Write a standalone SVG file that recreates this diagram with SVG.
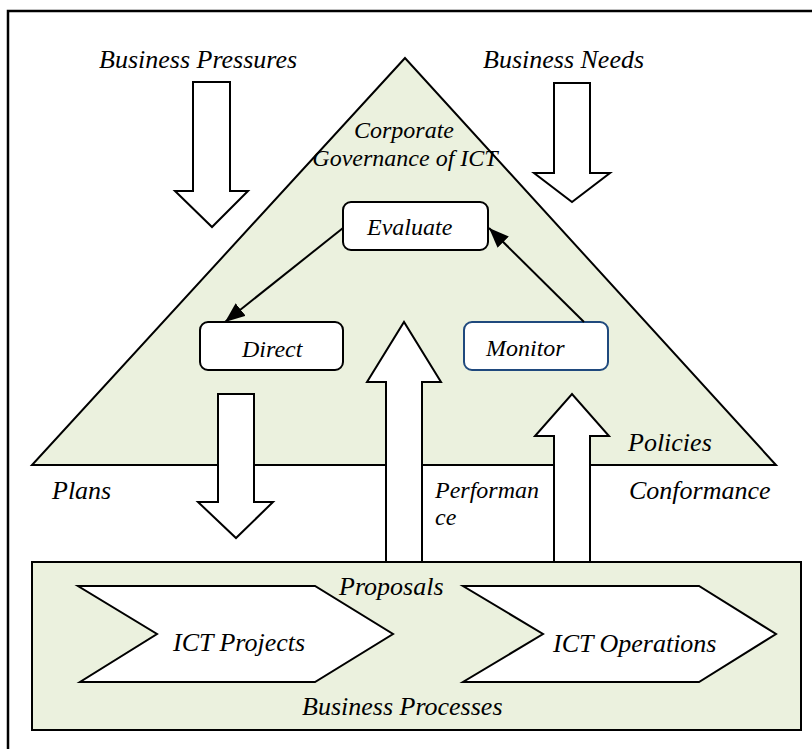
<svg xmlns="http://www.w3.org/2000/svg" width="812" height="749" viewBox="0 0 812 749">
<style>
.l{font-size:26px}
.s{font-size:24px}
.g{fill:#ebf1de;stroke:#000;stroke-width:2}
.w{fill:#fff;stroke:#000;stroke-width:2;stroke-linejoin:miter}
.c{fill:none;stroke:#000;stroke-width:2}
</style>
<defs>
<marker id="ah2" viewBox="0 0 20 16" refX="20" refY="8" markerWidth="20" markerHeight="16" markerUnits="userSpaceOnUse" orient="auto">
<path d="M0,0 L20,8 L0,16 z" fill="#000"/>
</marker>
</defs>
<g font-family="Liberation Serif, serif" font-style="italic" fill="#000">
<g id="frame">
<path d="M8,749 L8,11 L812,11" fill="none" stroke="#000" stroke-width="2.5"/>
</g>
<g id="governance">
<polygon class="g" points="405,58 32,465 776,465"/>
<text class="s" x="404" y="138" text-anchor="middle">Corporate</text>
<text class="s" x="405" y="166" text-anchor="middle">Governance of ICT</text>
</g>
<g id="evaluate">
<rect class="w" x="343" y="202" width="145" height="48" rx="8"/>
<text class="s" x="367" y="235">Evaluate</text>
</g>
<g id="direct">
<rect class="w" x="200" y="322" width="143" height="48" rx="8"/>
<text class="s" x="242" y="357">Direct</text>
</g>
<g id="monitor">
<rect x="464" y="322" width="144" height="48" rx="8" fill="#fff" stroke="#1f497d" stroke-width="2"/>
<text class="s" x="486" y="356">Monitor</text>
</g>
<g id="connectors">
<line class="c" x1="343" y1="228" x2="225" y2="322" marker-end="url(#ah2)"/>
<line class="c" x1="584" y1="322" x2="489" y2="228" marker-end="url(#ah2)"/>
</g>
<g id="business-pressures">
<polygon class="w" points="193,82 230,82 230,191 248,191 212,227 175,191 193,191"/>
<text class="l" x="99" y="68">Business Pressures</text>
</g>
<g id="business-needs">
<polygon class="w" points="554,83 590,83 590,173 610,173 572,202 534,173 554,173"/>
<text class="l" x="483" y="68">Business Needs</text>
</g>
<g id="plans">
<polygon class="w" points="218,394 254,394 254,502 273,502 236,538 198,502 218,502"/>
<text class="l" x="52" y="499">Plans</text>
</g>
<g id="performance">
<polygon class="w" points="386,565 386,382 367,382 404,322 441,382 422,382 422,565"/>
<text class="s" x="435" y="498">Performan</text>
<text class="s" x="435" y="525">ce</text>
</g>
<g id="conformance">
<polygon class="w" points="554,565 554,436 535,436 572,394 609,436 590,436 590,565"/>
<text class="l" x="628" y="451">Policies</text>
<text class="l" x="629" y="499">Conformance</text>
</g>
<g id="business-processes">
<rect class="g" x="32" y="562" width="769" height="168"/>
<text class="l" x="339" y="595">Proposals</text>
<text class="l" x="302" y="715">Business Processes</text>
</g>
<g id="ict-projects">
<polygon class="w" points="78,586 315,586 393,634 315,682 80,682 157,634"/>
<text class="l" x="173" y="651">ICT Projects</text>
</g>
<g id="ict-operations">
<polygon class="w" points="463,586 699,586 776,634 699,682 463,682 543,634"/>
<text class="l" x="553" y="652">ICT Operations</text>
</g>
</g>
</svg>
